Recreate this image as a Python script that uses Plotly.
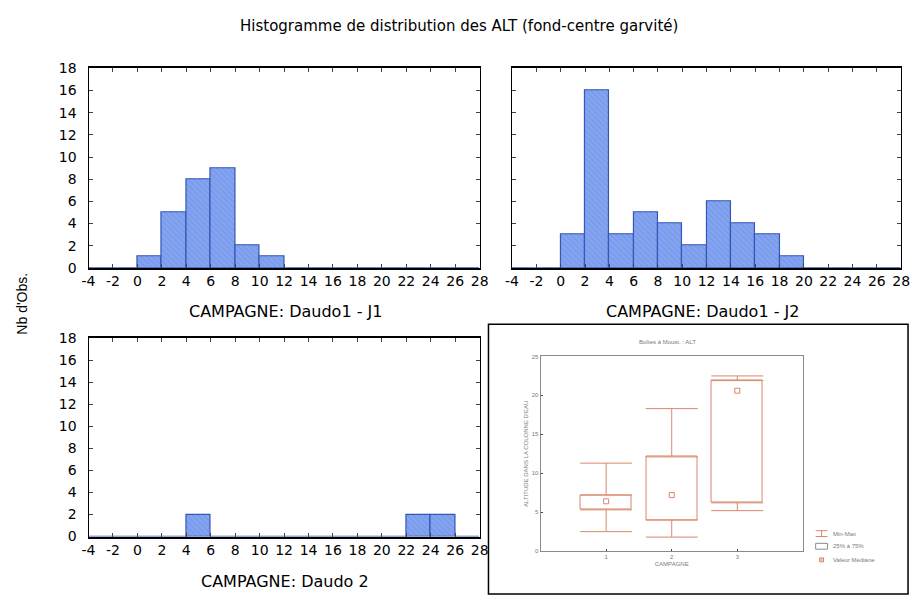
import plotly.graph_objects as go

# Histogram bins (width 2) and counts per campaign
bin_starts = [-4, -2, 0, 2, 4, 6, 8, 10, 12, 14, 16, 18, 20, 22, 24, 26]
counts_j1 = [0, 0, 1, 5, 8, 9, 2, 1, 0, 0, 0, 0, 0, 0, 0, 0]
counts_j2 = [0, 0, 3, 16, 3, 5, 4, 2, 6, 4, 3, 1, 0, 0, 0, 0]
counts_d2 = [0, 0, 0, 0, 2, 0, 0, 0, 0, 0, 0, 0, 0, 2, 2, 0]
x_ticks = list(range(-4, 30, 2))
y_ticks = list(range(0, 20, 2))

# Box-and-whisker summary per campaign
box_campaigns = [1, 2, 3]
box_min = [2.5, 1.8, 5.2]
box_q1 = [5.3, 4.0, 6.2]
box_median = [6.4, 7.2, 20.6]
box_q3 = [7.2, 12.1, 21.9]
box_max = [11.3, 18.3, 22.5]
box_y_ticks = [0, 5, 10, 15, 20, 25]
legend_labels = ["Min-Max", "25% à 75%", "Valeur Médiane"]

W, H = 919, 600
FONT = "DejaVu Sans, Arial, sans-serif"
SMALL_FONT = "Liberation Sans, Arial, sans-serif"
BAR_FILL = "#84a4f0"
BAR_LINE = "#3556b4"
BOX_COLOR = "#d9876a"
SMALL_GREY = "#7a7a7a"


def px(x):
    return x / W


def py(y):
    return 1 - y / H


fig = go.Figure()

centers = [b + 1 for b in bin_starts]
for counts, xa, ya in [(counts_j1, "x", "y"), (counts_j2, "x2", "y2"), (counts_d2, "x3", "y3")]:
    fig.add_trace(go.Bar(
        x=centers, y=counts, width=2, xaxis=xa, yaxis=ya, showlegend=False,
        marker=dict(color=BAR_FILL, line=dict(color=BAR_LINE, width=1.2),
                    pattern=dict(shape="\\", fgcolor="#6a8ee6", size=4, solidity=0.35)),
    ))

# Box-plot panel: boxes, whiskers and medians
q_span = [q3 - q1 for q1, q3 in zip(box_q1, box_q3)]
fig.add_trace(go.Bar(
    x=box_campaigns, y=q_span, base=box_q1, width=0.78, xaxis="x4", yaxis="y4",
    marker=dict(color="white", line=dict(color=BOX_COLOR, width=1)), showlegend=False,
))
fig.add_trace(go.Scatter(
    x=box_campaigns, y=box_q3, mode="markers", xaxis="x4", yaxis="y4",
    marker=dict(size=1, color="rgba(0,0,0,0)"), showlegend=False,
    error_y=dict(type="data", symmetric=False,
                 array=[mx - q3 for mx, q3 in zip(box_max, box_q3)],
                 arrayminus=[0, 0, 0], color=BOX_COLOR, thickness=1, width=26),
))
fig.add_trace(go.Scatter(
    x=box_campaigns, y=box_q1, mode="markers", xaxis="x4", yaxis="y4",
    marker=dict(size=1, color="rgba(0,0,0,0)"), showlegend=False,
    error_y=dict(type="data", symmetric=False, array=[0, 0, 0],
                 arrayminus=[q1 - mn for q1, mn in zip(box_q1, box_min)],
                 color=BOX_COLOR, thickness=1, width=26),
))
fig.add_trace(go.Scatter(
    x=box_campaigns, y=box_median, mode="markers", xaxis="x4", yaxis="y4",
    marker=dict(symbol="square-open", size=5, color=BOX_COLOR, line=dict(width=1)),
    showlegend=False,
))

tick_font = dict(size=14, color="black", family=FONT)
hist_x = dict(range=[-4, 28], tickvals=x_ticks, ticktext=[str(v) for v in x_ticks],
              ticks="inside", ticklen=4,
              showline=True, linecolor="black", linewidth=1.5, mirror="ticks",
              showgrid=False, zeroline=False, tickfont=tick_font)
hist_y = dict(range=[0, 18], tickvals=y_ticks, ticktext=[str(v) for v in y_ticks],
              ticks="inside", ticklen=4, ticklabelstandoff=8,
              showline=True, linecolor="black", linewidth=1.2, mirror="ticks",
              showgrid=False, zeroline=False, tickfont=tick_font)

top_dom = [py(267), py(62)]
bot_dom = [py(543), py(339)]
left_dom = [px(83), px(481)]
right_dom = [px(514), px(910)]

fig.update_layout(
    width=W, height=H, margin=dict(l=0, r=0, t=0, b=0),
    paper_bgcolor="white", plot_bgcolor="white",
    font=dict(family=FONT, color="black"),
    bargap=0, showlegend=False,
    xaxis=dict(hist_x, domain=left_dom, anchor="y"),
    yaxis=dict(hist_y, domain=top_dom, anchor="x"),
    xaxis2=dict(hist_x, domain=right_dom, anchor="y2"),
    yaxis2=dict(hist_y, domain=top_dom, anchor="x2", showticklabels=False),
    xaxis3=dict(hist_x, domain=left_dom, anchor="y3"),
    yaxis3=dict(hist_y, domain=bot_dom, anchor="x3"),
    xaxis4=dict(domain=[px(543), px(810)], anchor="y4", range=[0, 4],
                tickvals=box_campaigns, ticktext=["1", "2", "3"], ticks="inside", ticklen=2,
                showline=True, linecolor="#8a8a8a", linewidth=1, mirror=True,
                showgrid=False, zeroline=False,
                tickfont=dict(size=6, color=SMALL_GREY, family=SMALL_FONT),
                title=dict(text="CAMPAGNE", font=dict(size=6, color=SMALL_GREY, family=SMALL_FONT),
                           standoff=2)),
    yaxis4=dict(domain=[py(558), py(358)], anchor="x4", range=[0, 25],
                tickvals=box_y_ticks, ticks="inside", ticklen=2,
                showline=True, linecolor="#8a8a8a", linewidth=1, mirror=True,
                showgrid=False, zeroline=False,
                tickfont=dict(size=6, color=SMALL_GREY, family=SMALL_FONT),
                title=dict(text="ALTITUDE DANS LA COLONNE D'EAU",
                           font=dict(size=6, color=SMALL_GREY, family=SMALL_FONT), standoff=2)),
)

# Frame around the box-plot panel
fig.add_shape(type="rect", xref="paper", yref="paper",
              x0=px(490), x1=px(917), y0=py(325), y1=py(602),
              line=dict(color="black", width=1.5))

# Key of the box-plot panel
key_rows = [py(540), py(553), py(567)]
kx0, kx1 = px(823), px(835)
dy = 3 / H
# whisker symbol
fig.add_shape(type="line", xref="paper", yref="paper", x0=kx0, x1=kx1,
              y0=key_rows[0] + dy, y1=key_rows[0] + dy, line=dict(color=BOX_COLOR, width=1))
fig.add_shape(type="line", xref="paper", yref="paper", x0=kx0, x1=kx1,
              y0=key_rows[0] - dy, y1=key_rows[0] - dy, line=dict(color=BOX_COLOR, width=1))
fig.add_shape(type="line", xref="paper", yref="paper", x0=(kx0 + kx1) / 2, x1=(kx0 + kx1) / 2,
              y0=key_rows[0] - dy, y1=key_rows[0] + dy, line=dict(color=BOX_COLOR, width=1))
# box symbol
fig.add_shape(type="rect", xref="paper", yref="paper", x0=kx0, x1=kx1,
              y0=key_rows[1] - dy, y1=key_rows[1] + dy, line=dict(color="#8a8a8a", width=1))
# median symbol
fig.add_shape(type="rect", xref="paper", yref="paper", x0=px(827), x1=px(831),
              y0=key_rows[2] - 2 / H, y1=key_rows[2] + 2 / H,
              line=dict(color=BOX_COLOR, width=1), fillcolor="#f0c8b8")
for label, ky in zip(legend_labels, key_rows):
    fig.add_annotation(xref="paper", yref="paper", x=px(839), y=ky, text=label,
                       showarrow=False, xanchor="left", yanchor="middle",
                       font=dict(size=6, color=SMALL_GREY, family=SMALL_FONT))

annotations = [
    dict(text="Histogramme de distribution des ALT (fond-centre garvité)",
         x=px(460), y=py(18), font=dict(size=15)),
    dict(text="CAMPAGNE: Daudo1 - J1", x=px(283), y=py(312), font=dict(size=16)),
    dict(text="CAMPAGNE: Daudo1 - J2", x=px(708), y=py(312), font=dict(size=16)),
    dict(text="CAMPAGNE: Daudo 2", x=px(283), y=py(589), font=dict(size=16)),
    dict(text="Nb d'Obs.", x=px(15), y=py(304), textangle=-90,
         font=dict(size=14, family="Liberation Sans, Arial, sans-serif")),
    dict(text="Boîtes à Moust. : ALT", x=px(672), y=py(343),
         font=dict(size=6, color=SMALL_GREY, family=SMALL_FONT)),
]
for a in annotations:
    fig.add_annotation(xref="paper", yref="paper", showarrow=False,
                       xanchor="center", yanchor="middle", **a)

fig.write_html("out.html")
